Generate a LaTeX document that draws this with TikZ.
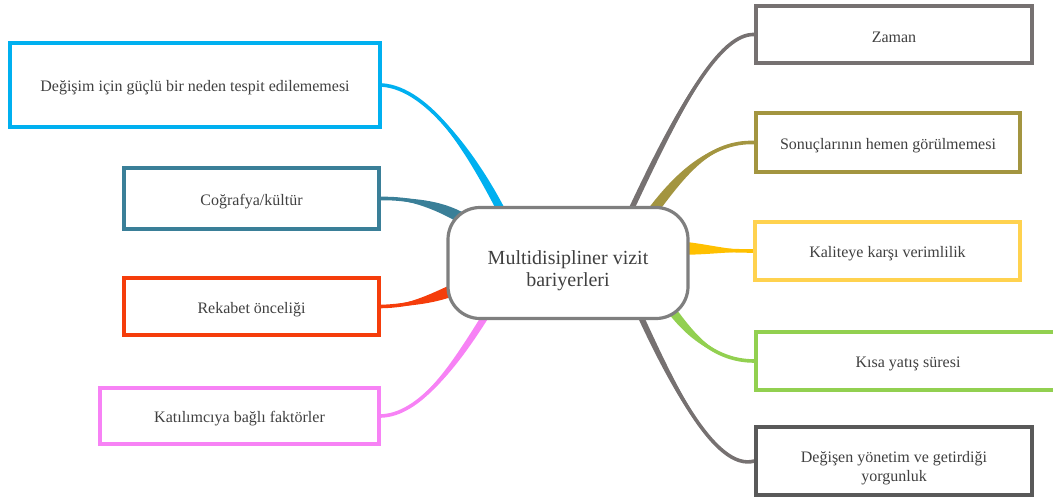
\documentclass[tikz,border=0pt]{standalone}
\usepackage{fontspec}
\setmainfont{Liberation Serif}
\usetikzlibrary{calc, backgrounds}

\definecolor{CyanC}{HTML}{00B0F0}
\definecolor{TealC}{HTML}{3A7F98}
\definecolor{RedC}{HTML}{F53D0B}
\definecolor{PinkC}{HTML}{F782F5}
\definecolor{ZamanC}{HTML}{767171}
\definecolor{OliveC}{HTML}{A39540}
\definecolor{GoldBox}{HTML}{FFD24F}
\definecolor{GoldLine}{HTML}{FFC000}
\definecolor{GreenC}{HTML}{92D050}
\definecolor{DarkC}{HTML}{595959}
\definecolor{HubGray}{HTML}{7F7F7F}
\definecolor{TextGray}{HTML}{404040}

% tapered branch: colour, start, control 1, control 2, end, half width at start, half width at end
\newcommand{\Branch}[7]{%
	\draw[#1, line width=3.6pt] #2 .. controls #3 and #4 .. ($#5$);
	\fill[#1] ($#2+#6$) .. controls ($#3+#6$) and ($#4+#7$) .. ($#5+#7$)
	-- ($#5-#7$) .. controls ($#4-#7$) and ($#3-#6$) .. ($#2-#6$) -- cycle;}

\begin{document}
\begin{tikzpicture}[
		x=1pt, y=-1pt,
		BoxCfg/.style={
			draw, line width=3.2pt, fill=white, text=TextGray, text height=17pt,
			font=\fontsize{16}{19}\selectfont, inner sep=0pt, align=center
		},
		HubCfg/.style={
			draw=HubGray, line width=3.2pt, fill=white, text=TextGray, text height=51pt,
			rounded corners=32pt, minimum width=240pt, minimum height=111pt,
			font=\fontsize{20}{22}\selectfont, inner sep=0pt, align=center
		}
		]
		
		\useasboundingbox (0,0) rectangle (1053,498);
		
		\node [HubCfg] (Mid) at (568,263) {Multidisipliner vizit\\bariyerleri};
		
		% left side
		\node [BoxCfg, draw=CyanC, minimum width=370pt, minimum height=84pt] (Left1) at (195,85)
		{Değişim için güçlü bir neden tespit edilememesi};
		\node [BoxCfg, draw=TealC, minimum width=255pt, minimum height=61pt] (Left2) at (251.5,198.5)
		{Coğrafya/kültür};
		\node [BoxCfg, draw=RedC, minimum width=255pt, minimum height=57pt] (Left3) at (251.5,306.5)
		{Rekabet önceliği};
		\node [BoxCfg, draw=PinkC, minimum width=279pt, minimum height=56pt] (Left4) at (239.5,416)
		{Katılımcıya bağlı faktörler};
		
		% right side
		\node [BoxCfg, draw=ZamanC, minimum width=276pt, minimum height=57pt] (Right1) at (894,34.5)
		{Zaman};
		\node [BoxCfg, draw=OliveC, minimum width=264pt, minimum height=59pt] (Right2) at (888,142.5)
		{Sonuçlarının hemen görülmemesi};
		\node [BoxCfg, draw=GoldBox, minimum width=265pt, minimum height=58pt] (Right3) at (887.5,251)
		{Kaliteye karşı verimlilik};
		\node [BoxCfg, draw=GreenC, minimum width=304pt, minimum height=58pt] (Right4) at (908,361)
		{Kısa yatış süresi};
		\node [BoxCfg, draw=DarkC, text height=44pt, minimum width=276pt, minimum height=68pt] (Right5) at (894,461)
		{Değişen yönetim ve getirdiği\\yorgunluk};
		
		\begin{scope}[on background layer]
			\Branch{CyanC}{(Left1.east)}{(430,88)}{(475,160)}{(Mid.center)+(-66,-51)}{(0,0.5)}{(3.6,-1.9)}
			\Branch{TealC}{(Left2.east)}{(410,198)}{(440,205)}{(Mid.center)+(-103,-43)}{(0,0.5)}{(-1.5,5.5)}
			\Branch{RedC}{(Left3.east)}{(410,306)}{(435,298)}{(Mid.center)+(-110,25)}{(0,0.5)}{(2,5.5)}
			\Branch{PinkC}{(Left4.east)}{(420,415)}{(455,365)}{(Mid.center)+(-80,49)}{(0,0.5)}{(3,1.8)}
			
			\Branch{ZamanC}{(Right1.west)}{(720,33)}{(680,105)}{(Mid.center)+(62,-51)}{(0,0.5)}{(2.5,1.2)}
			\Branch{OliveC}{(Right2.west)}{(710,141)}{(680,175)}{(Mid.center)+(84,-51)}{(0,0.5)}{(4,3)}
			\Branch{GoldLine}{(Right3.west)}{(730,251)}{(700,249)}{(Mid.center)+(112,-15)}{(0,0.5)}{(0,6.5)}
			\Branch{GreenC}{(Right4.west)}{(715,361)}{(690,335)}{(Mid.center)+(102,45)}{(0,0.5)}{(3.6,-2.6)}
			\Branch{ZamanC}{(Right5.west)}{(715,472)}{(670,380)}{(Mid.center)+(72,52)}{(0,0.5)}{(2.7,-1.25)}
		\end{scope}
\end{tikzpicture}
\end{document}
